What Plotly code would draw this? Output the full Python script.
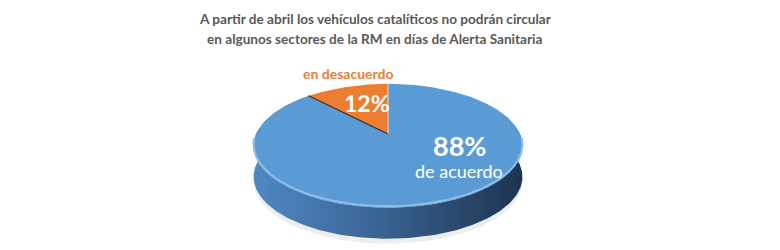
import numpy as np
import plotly.graph_objects as go

labels = ["de acuerdo", "en desacuerdo"]
values = [88, 12]
colors = ["#5B9BD5", "#ED7D31"]
title_lines = ["A partir de abril los vehículos catalíticos no podrán circular",
               "en algunos sectores de la RM en días de Alerta Sanitaria"]

# geometry of the tilted disc (pixel space), simple perspective projection
CX, CY, A, B, P, DEPTH = 388, 134, 132, 59.7, 0.19, 31


def pt(theta_deg, dy=0.0):
    t = np.radians(theta_deg)
    u, w = np.sin(t), np.cos(t)  # w>0 is the far side
    f = 1.0 / (1.0 + P * w)
    return CX + A * u * f, CY - B * w * f + dy


fig = go.Figure()

# soft shadow
th = np.linspace(0, 360, 200)
sx, sy = pt(th, DEPTH + 5)
fig.add_trace(go.Scatter(x=sx, y=sy, fill="toself", mode="lines", line=dict(width=0),
                         fillcolor="rgba(0,0,0,0.07)", hoverinfo="skip", showlegend=False))

# side wall (front half)
th = np.linspace(85, 275, 200)
tx, ty = pt(th)
bx, by = pt(th[::-1], DEPTH)
fig.add_trace(go.Scatter(x=np.concatenate([tx, bx]), y=np.concatenate([ty, by]),
                         fill="toself", mode="lines", line=dict(width=0),
                         fillgradient=dict(type="horizontal",
                                           colorscale=[[0, "#4F88C6"], [0.45, "#3A6594"], [1, "#1D3350"]]),
                         hoverinfo="skip", showlegend=False))

# top face wedges: 'de acuerdo' clockwise from 12 o'clock, 'en desacuerdo' counter-clockwise
total = sum(values)
spans = [(0, 360 * values[0] / total), (-360 * values[1] / total, 0)]
for (a0, a1), c in zip(spans, colors):
    th = np.linspace(a0, a1, 300)
    x, y = pt(th)
    fig.add_trace(go.Scatter(x=np.concatenate([[CX], x, [CX]]), y=np.concatenate([[CY], y, [CY]]),
                             fill="toself", mode="lines", line=dict(width=0), fillcolor=c,
                             hoverinfo="skip", showlegend=False))

# rim highlight along front edge
th = np.linspace(95, 265, 200)
hx, hy = pt(th)
fig.add_trace(go.Scatter(x=hx, y=hy - 1.5, mode="lines", line=dict(color="#8EBDE8", width=2),
                         hoverinfo="skip", showlegend=False))

# dark separator on left radius of orange wedge
ex, ey = pt(spans[1][0])
fig.add_trace(go.Scatter(x=[CX, ex], y=[CY, ey], mode="lines", line=dict(color="#3A2A1E", width=1.2),
                         hoverinfo="skip", showlegend=False))
vx, vy = pt(0)
fig.add_trace(go.Scatter(x=[CX, vx], y=[CY, vy], mode="lines", line=dict(color="rgba(255,255,255,0.7)", width=1),
                         hoverinfo="skip", showlegend=False))

FONT = "Lato"
ann = [
    dict(x=375, y=19, text="<b>" + title_lines[0] + "</b>", font=dict(size=13.6, color="#595959")),
    dict(x=375, y=39, text="<b>" + title_lines[1] + "</b>", font=dict(size=13.6, color="#595959")),
    dict(x=459, y=145, text="<b>%d%%</b>" % values[0], font=dict(size=27, color="white")),
    dict(x=459, y=171, text=labels[0], font=dict(size=18, color="white")),
    dict(x=367, y=103, text="<b>%d%%</b>" % values[1], font=dict(size=23, color="white")),
    dict(x=348, y=73, text="<b>%s</b>" % labels[1], font=dict(size=14, color="#ED7D31")),
]
for a in ann:
    a.update(xref="x", yref="y", showarrow=False, xanchor="center", yanchor="middle")
    a["font"]["family"] = FONT

fig.update_layout(
    width=780, height=250, margin=dict(l=0, r=0, t=0, b=0),
    paper_bgcolor="white", plot_bgcolor="white",
    xaxis=dict(range=[0, 780], visible=False, fixedrange=True),
    yaxis=dict(range=[250, 0], visible=False, fixedrange=True),
    annotations=ann, showlegend=False,
)
fig.write_html("out.html")
